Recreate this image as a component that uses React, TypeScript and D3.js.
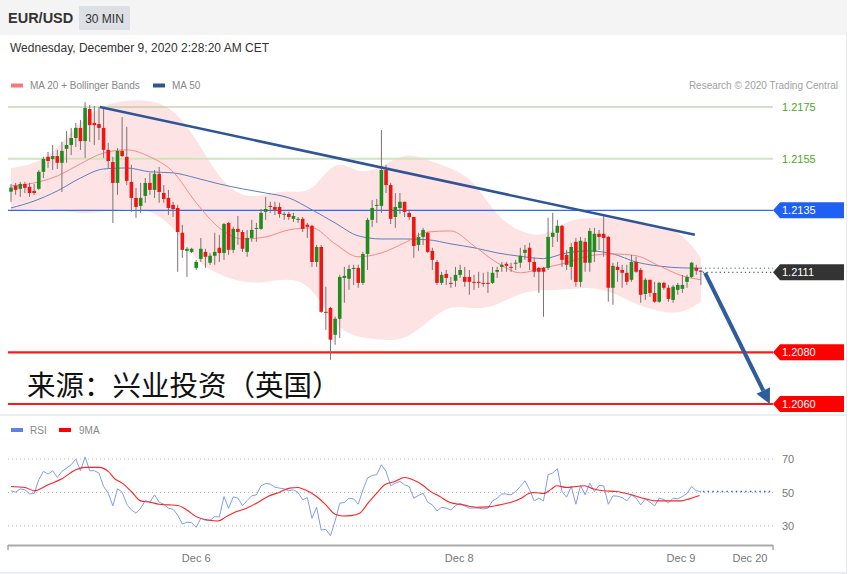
import React from 'react';
import * as d3 from 'd3';

const opens = [1.21422,1.21446,1.21433,1.21452,1.21441,1.21425,1.21433,1.21499,1.21557,1.21549,
1.21560,1.21534,1.21588,1.21603,1.21630,1.21669,1.21618,1.21742,1.21688,1.21684,
1.21669,1.21584,1.21537,1.21456,1.21580,1.21557,1.21460,1.21398,1.21367,1.21406,
1.21456,1.21429,1.21491,1.21417,1.21398,1.21371,1.21359,1.21263,1.21193,1.21189,
1.21127,1.21162,1.21189,1.21147,1.21174,1.21205,1.21185,1.21301,1.21197,1.21278,
1.21266,1.21189,1.21243,1.21278,1.21278,1.21344,1.21367,1.21363,1.21363,1.21332,
1.21336,1.21317,1.21313,1.21317,1.21294,1.21290,1.21150,1.21208,1.20957,1.20972,
1.20868,1.20930,1.21088,1.21085,1.21123,1.21127,1.21069,1.21181,1.21313,1.21367,
1.21367,1.21506,1.21448,1.21324,1.21359,1.21383,1.21340,1.21324,1.21216,1.21247,
1.21263,1.21193,1.21150,1.21069,1.21104,1.21069,1.21077,1.21100,1.21092,1.21092,
1.21073,1.21073,1.21069,1.21069,1.21069,1.21112,1.21131,1.21143,1.21131,1.21143,
1.21147,1.21185,1.21205,1.21150,1.21127,1.21127,1.21127,1.21247,1.21263,1.21290,
1.21177,1.21131,1.21228,1.21073,1.21228,1.21147,1.21189,1.21259,1.21259,1.21247,
1.21050,1.21131,1.21119,1.21108,1.21081,1.21150,1.21119,1.21026,1.21081,1.21030,
1.20996,1.21069,1.21050,1.21003,1.21042,1.21046,1.21073,1.21092,1.21127,1.21116];

const highs = [1.21452,1.21456,1.21460,1.21460,1.21456,1.21452,1.21506,1.21557,1.21576,1.21603,
1.21584,1.21615,1.21657,1.21669,1.21688,1.21700,1.21769,1.21758,1.21754,1.21750,
1.21746,1.21611,1.21557,1.21591,1.21711,1.21673,1.21526,1.21437,1.21456,1.21475,
1.21495,1.21506,1.21518,1.21448,1.21429,1.21383,1.21371,1.21294,1.21208,1.21205,
1.21158,1.21243,1.21201,1.21185,1.21263,1.21255,1.21301,1.21305,1.21286,1.21328,
1.21274,1.21274,1.21313,1.21301,1.21355,1.21402,1.21383,1.21383,1.21379,1.21344,
1.21344,1.21340,1.21324,1.21324,1.21301,1.21294,1.21216,1.21216,1.21054,1.20976,
1.20938,1.21100,1.21131,1.21139,1.21139,1.21139,1.21189,1.21321,1.21390,1.21394,
1.21661,1.21526,1.21456,1.21417,1.21417,1.21383,1.21352,1.21324,1.21263,1.21282,
1.21266,1.21205,1.21158,1.21112,1.21119,1.21092,1.21131,1.21139,1.21131,1.21119,
1.21100,1.21112,1.21108,1.21112,1.21131,1.21131,1.21150,1.21150,1.21147,1.21158,
1.21205,1.21216,1.21224,1.21166,1.21131,1.21131,1.21321,1.21340,1.21313,1.21294,
1.21197,1.21224,1.21243,1.21247,1.21243,1.21282,1.21282,1.21274,1.21332,1.21251,
1.21147,1.21150,1.21139,1.21139,1.21177,1.21170,1.21127,1.21088,1.21081,1.21073,
1.21073,1.21073,1.21061,1.21061,1.21069,1.21100,1.21100,1.21150,1.21139,1.21119];

const lows = [1.21383,1.21410,1.21402,1.21417,1.21402,1.21410,1.21429,1.21475,1.21514,1.21506,
1.21510,1.21421,1.21534,1.21564,1.21595,1.21584,1.21553,1.21615,1.21603,1.21622,
1.21553,1.21514,1.21301,1.21410,1.21557,1.21448,1.21344,1.21321,1.21340,1.21379,
1.21410,1.21398,1.21379,1.21379,1.21332,1.21324,1.21112,1.21166,1.21092,1.21185,
1.21119,1.21150,1.21127,1.21139,1.21139,1.21150,1.21158,1.21177,1.21185,1.21216,
1.21189,1.21170,1.21228,1.21228,1.21274,1.21313,1.21340,1.21332,1.21321,1.21313,
1.21313,1.21305,1.21301,1.21266,1.21243,1.21131,1.21131,1.20953,1.20887,1.20771,
1.20829,1.20856,1.20992,1.21042,1.21061,1.21050,1.21061,1.21119,1.21286,1.21301,
1.21340,1.21417,1.21297,1.21282,1.21336,1.21324,1.21313,1.21166,1.21193,1.21216,
1.21185,1.21119,1.21061,1.21061,1.21061,1.21050,1.21054,1.21088,1.21054,1.21023,
1.21042,1.21050,1.21054,1.21030,1.21065,1.21088,1.21112,1.21112,1.21112,1.21119,
1.21127,1.21158,1.21119,1.21092,1.21030,1.20938,1.21119,1.21208,1.21228,1.21131,
1.21119,1.21081,1.21054,1.21054,1.21112,1.21112,1.21150,1.21197,1.21170,1.20996,
1.20984,1.21073,1.21050,1.21061,1.21073,1.21108,1.20992,1.21003,1.21015,1.20992,
1.20992,1.21042,1.20996,1.20992,1.21023,1.21030,1.21050,1.21088,1.21100,1.21061];

const closes = [1.21438,1.21429,1.21452,1.21437,1.21417,1.21417,1.21499,1.21549,1.21541,1.21560,
1.21534,1.21580,1.21603,1.21630,1.21669,1.21618,1.21746,1.21680,1.21680,1.21669,
1.21584,1.21541,1.21456,1.21580,1.21560,1.21464,1.21398,1.21363,1.21398,1.21456,
1.21429,1.21491,1.21421,1.21394,1.21359,1.21355,1.21266,1.21197,1.21201,1.21201,
1.21150,1.21201,1.21170,1.21174,1.21189,1.21185,1.21297,1.21197,1.21278,1.21266,
1.21201,1.21243,1.21274,1.21282,1.21340,1.21355,1.21363,1.21352,1.21336,1.21336,
1.21324,1.21328,1.21317,1.21278,1.21286,1.21150,1.21208,1.20957,1.20953,1.20849,
1.20930,1.21092,1.21096,1.21123,1.21127,1.21069,1.21181,1.21313,1.21359,1.21371,
1.21506,1.21448,1.21317,1.21363,1.21383,1.21344,1.21324,1.21212,1.21247,1.21274,
1.21189,1.21158,1.21069,1.21100,1.21088,1.21067,1.21100,1.21119,1.21073,1.21073,
1.21069,1.21069,1.21067,1.21067,1.21108,1.21119,1.21139,1.21135,1.21127,1.21147,
1.21174,1.21197,1.21150,1.21112,1.21112,1.21112,1.21247,1.21263,1.21290,1.21158,
1.21139,1.21208,1.21073,1.21232,1.21147,1.21270,1.21259,1.21247,1.21243,1.21050,
1.21135,1.21119,1.21108,1.21073,1.21150,1.21112,1.21023,1.21081,1.21030,1.20996,
1.21069,1.21050,1.21007,1.21054,1.21061,1.21061,1.21092,1.21147,1.21116,1.21112];

const bandIdx = [0,5,10,15,20,25,30,35,40,45,50,55,60,65,70,75,80,85,90,95,100,105,110,115,120,125,130,135,140,145,149];
const bandUpper = [1.21514,1.21526,1.21584,1.21700,1.21758,1.21777,1.21777,1.21746,1.21630,1.21468,1.21398,1.21410,1.21429,1.21410,1.21560,1.21487,1.21514,1.21576,1.21545,1.21514,1.21468,1.21321,1.21266,1.21243,1.21313,1.21321,1.21321,1.21305,1.21290,1.21263,1.21166];
const bandLower = [1.21344,1.21359,1.21352,1.21336,1.21344,1.21359,1.21352,1.21294,1.21150,1.21100,1.21069,1.21069,1.21089,1.21061,1.20895,1.20856,1.20849,1.20845,1.20918,1.20988,1.20965,1.20980,1.21034,1.21042,1.21042,1.21054,1.21034,1.20984,1.20957,1.20949,1.20996];
const ma20 = [1.21444,1.21456,1.21483,1.21530,1.21572,1.21584,1.21557,1.21499,1.21379,1.21282,1.21239,1.21247,1.21274,1.21282,1.21220,1.21170,1.21185,1.21224,1.21266,1.21270,1.21212,1.21147,1.21108,1.21127,1.21147,1.21174,1.21181,1.21174,1.21135,1.21096,1.21081];
const ma50 = [1.21359,1.21386,1.21425,1.21475,1.21510,1.21514,1.21499,1.21495,1.21475,1.21452,1.21433,1.21417,1.21398,1.21352,1.21301,1.21251,1.21239,1.21239,1.21236,1.21220,1.21205,1.21185,1.21172,1.21163,1.21185,1.21193,1.21181,1.21150,1.21134,1.21127,1.21126];

const rsi = [51.0,50.2,52.2,51.6,49.2,49.4,57.6,62.6,61.0,63.0,
59.0,62.6,64.6,66.6,70.0,63.0,71.2,63.0,63.0,61.6,
53.6,49.6,42.0,52.2,50.2,43.0,39.6,37.6,40.6,45.2,
44.2,48.6,44.2,43.0,40.6,40.0,36.6,31.2,32.2,32.0,
29.2,34.6,33.4,33.4,35.6,35.4,47.6,40.6,47.4,46.6,
42.2,45.2,48.0,48.6,54.0,55.4,55.0,53.2,52.6,52.2,
51.0,51.6,50.0,45.6,47.0,34.6,41.2,27.6,28.0,24.2,
33.0,43.6,44.0,46.6,46.2,43.0,51.6,58.6,60.2,60.6,
66.6,62.6,54.0,55.6,56.6,54.6,53.6,46.6,48.2,49.6,
44.2,42.6,39.0,41.2,40.6,39.6,42.2,43.6,42.0,40.6,
40.8,40.6,40.2,40.6,45.0,46.6,49.2,49.0,48.6,50.6,
53.6,57.0,51.6,45.0,46.6,45.0,60.6,61.6,64.2,50.6,
47.2,53.6,43.0,54.2,48.6,55.6,50.6,54.2,54.0,43.0,
48.0,47.8,47.0,45.0,48.6,46.6,42.6,46.2,44.2,42.0,
46.6,45.8,43.8,46.6,46.2,47.6,49.4,53.6,51.0,50.6];
const rsiMaIdx = [0,3,5,8,11,14,16,19,21,22.4,24,26,28,30,32,34,36,38,40,42.6,44.7,46.5,48.7,50.9,53.4,55.5,58,60.2,62,63.5,66,68,70,71.7,73.5,75.3,77.1,79,80.7,82.9,85,86.8,89,90.4,92.6,94.7,97.6,100.5,103,105.5,108,110.2,111.7,113,115,116.7,117.8,120,122,123.9,125.7,127.8,130.7,133.6,136.5,139.4,142.2,144.7,146.5,148.7];
const rsiMa = [53.6,53,51,54.6,58.2,63.6,65,65,62.6,58.2,55.6,50.6,45,44.2,43,42.6,42.2,39.6,35.6,33.6,33,35.6,38.6,40.6,44.2,47.6,50.2,52.6,53,51.6,47.6,42.6,37,36,36.2,37.6,43.6,49.6,54.6,56.6,59,57.6,54.2,51,47.6,44.2,42.6,41.2,41.4,42.6,44.2,46.6,49.2,50,49.4,52,54,53,53.6,54,52.2,51,50.6,49,46.6,45,45,45,46.2,48.2];

const levelPrices = [1.2175, 1.2155, 1.2135, 1.2111, 1.2080, 1.2060];
const levelLabels = ['1.2175', '1.2155', '1.2135', '1.2111', '1.2080', '1.2060'];
const trendIdx = [19.2, 147.7];
const trendPrice = [1.2175, 1.21255];
const arrowIdx = [149.9, 163.9];
const arrowPrice = [1.21108, 1.2060];
const xTickIdx = [40, 96.8, 144.7, 159.6];
const xTickLabels = ['Dec 6', 'Dec 8', 'Dec 9', 'Dec 20'];
const rsiTicks = [70, 50, 30];

const FONT = 'Liberation Sans, Arial, Helvetica, sans-serif';

export default function App() {
  const x = d3.scaleLinear().domain([0, 149]).range([11, 700.9]);
  const y = d3.scaleLinear().domain([1.2060, 1.2175]).range([404, 107]);
  const yr = d3.scaleLinear().domain([30, 70]).range([526, 459]);
  const left = 8, right = 773;

  const bandArea = d3.area<number>()
    .x((_, i) => x(bandIdx[i]))
    .y0((_, i) => y(bandLower[i]))
    .y1((_, i) => y(bandUpper[i]))
    .curve(d3.curveBasis);
  const lineOf = (vals: number[]) => d3.line<number>()
    .x((_, i) => x(bandIdx[i]))
    .y((d) => y(d))
    .curve(d3.curveMonotoneX)(vals) as string;
  const rsiLine = d3.line<number>().x((_, i) => x(i)).y((d) => yr(d))(rsi) as string;
  const rsiMaLine = d3.line<number>().x((_, i) => x(rsiMaIdx[i])).y((d) => yr(d)).curve(d3.curveMonotoneX)(rsiMa) as string;

  const levelStyle = [
    { stroke: '#a9c28f', w: 1, label: '#4fa71c', tag: null },
    { stroke: '#cfe4bf', w: 2, label: '#4fa71c', tag: null },
    { stroke: '#2b6cf2', w: 1.3, label: '#fff', tag: '#1f5ff2' },
    { stroke: null, w: 0, label: '#fff', tag: '#333333' },
    { stroke: '#ff1a1a', w: 2.2, label: '#fff', tag: '#ff0000' },
    { stroke: '#ff1a1a', w: 2.2, label: '#fff', tag: '#ff0000' },
  ];

  const ax0 = x(arrowIdx[0]), ay0 = y(arrowPrice[0]);
  const ax1 = x(arrowIdx[1]), ay1 = y(arrowPrice[1]);
  const dx = ax1 - ax0, dy = ay1 - ay0, len = Math.hypot(dx, dy);
  const ux = dx / len, uy = dy / len;
  const headL = 15, headW = 7.5;
  const bx = ax1 - ux * headL, by = ay1 - uy * headL;
  const head = `${ax1},${ay1} ${bx - uy * headW},${by + ux * headW} ${bx + uy * headW},${by - ux * headW}`;

  const lastX = x(149);
  const lastRsi = rsi[rsi.length - 1];
  const lastMa50 = ma50[ma50.length - 1];

  return (
    <svg width={863} height={574} style={{ position: 'absolute', left: 0, top: 0, background: '#fff' }} fontFamily={FONT}>
      <rect x={0} y={0} width={847} height={35} fill="#f4f4f4" />
      <text x={8} y={23} fontSize={14.5} fontWeight="bold" fill="#333">EUR/USD</text>
      <rect x={79} y={6} width={51} height={24} fill="#dcdfe4" rx={1} />
      <text x={104.5} y={22.5} fontSize={12} fill="#333" textAnchor="middle">30 MIN</text>
      <text x={10} y={52} fontSize={12} fill="#333">Wednesday, December 9, 2020 2:28:20 AM CET</text>
      <line x1={846.5} y1={35} x2={846.5} y2={574} stroke="#e9ecef" />
      <line x1={0} y1={415} x2={846} y2={415} stroke="#eceff2" strokeWidth={2} />
      <line x1={0} y1={573} x2={846} y2={573} stroke="#eceff2" strokeWidth={2} />

      <rect x={11} y={83.5} width={12} height={4} fill="#f57a7a" />
      <text x={30} y={89} fontSize={10} fill="#888">MA 20 + Bollinger Bands</text>
      <rect x={153} y={83.5} width={12} height={4} fill="#2f5597" />
      <text x={172} y={89} fontSize={10} fill="#888">MA 50</text>
      <text x={838} y={89} fontSize={10} fill="#a0a0a0" textAnchor="end">Research © 2020 Trading Central</text>

      <path d={bandArea(bandUpper) as string} fill="#fde3e3" />

      {levelPrices.map((p, k) => {
        const s = levelStyle[k];
        const yy = y(p);
        return (
          <g key={k}>
            {s.stroke && <line x1={left} x2={right} y1={yy} y2={yy} stroke={s.stroke} strokeWidth={s.w} />}
          </g>
        );
      })}

      <path d={lineOf(ma50)} fill="none" stroke="#5b7fc0" strokeWidth={1} />
      <path d={lineOf(ma20)} fill="none" stroke="#f58a8a" strokeWidth={1} />

      {closes.map((c, i) => {
        const o = opens[i];
        const up = c >= o;
        const cx = x(i);
        const top = y(Math.max(o, c));
        const bot = y(Math.min(o, c));
        return (
          <g key={i}>
            <line x1={cx} x2={cx} y1={y(highs[i])} y2={y(lows[i])} stroke="#7d7272" strokeWidth={1} />
            <rect x={cx - 1.8} y={top} width={3.6} height={Math.max(1, bot - top)} fill={up ? '#1e8c1e' : '#f01414'} />
          </g>
        );
      })}

      <line x1={lastX} x2={right} y1={y(lastMa50)} y2={y(lastMa50)} stroke="#2f5597" strokeWidth={1} strokeDasharray="1.2,3" />
      <line x1={lastX + 2} x2={right} y1={y(levelPrices[3])} y2={y(levelPrices[3])} stroke="#333" strokeWidth={1} strokeDasharray="1.2,3" />

      <line x1={x(trendIdx[0])} y1={y(trendPrice[0])} x2={x(trendIdx[1])} y2={y(trendPrice[1])} stroke="#2f5597" strokeWidth={2.5} />

      <line x1={ax0} y1={ay0} x2={bx} y2={by} stroke="#2e5c9c" strokeWidth={4} />
      <polygon points={head} fill="#2e5c9c" />

      {levelPrices.map((p, k) => {
        const s = levelStyle[k];
        const yy = y(p);
        if (s.tag) {
          return (
            <g key={'t' + k}>
              <polygon points={`${right},${yy} ${right + 7},${yy - 8} 844,${yy - 8} 844,${yy + 8} ${right + 7},${yy + 8}`} fill={s.tag} />
              <text x={782} y={yy + 4} fontSize={11} fill="#fff">{levelLabels[k]}</text>
            </g>
          );
        }
        return <text key={'t' + k} x={782} y={yy + 4} fontSize={11} fill={s.label}>{levelLabels[k]}</text>;
      })}

      <text x={27} y={396} fontSize={28.5} fill="#111" fontFamily="Noto Sans CJK SC, sans-serif">来源：兴业投资（英国）</text>

      <rect x={11} y={428} width={12} height={4} fill="#5b82e6" />
      <text x={30} y={434} fontSize={10} fill="#888">RSI</text>
      <rect x={59} y={428} width={12} height={4} fill="#f00" />
      <text x={79} y={434} fontSize={10} fill="#888">9MA</text>

      {rsiTicks.map((t) => (
        <g key={t}>
          <line x1={left} x2={right} y1={yr(t)} y2={yr(t)} stroke="#bdbdbd" strokeDasharray="1,3" />
          <text x={782} y={yr(t) + 4} fontSize={11} fill="#777">{t}</text>
        </g>
      ))}
      <path d={rsiLine} fill="none" stroke="#7f9ef0" strokeWidth={1} />
      <path d={rsiMaLine} fill="none" stroke="#f22" strokeWidth={1.1} />
      <line x1={lastX + 2} x2={right} y1={yr(lastRsi)} y2={yr(lastRsi)} stroke="#2f62e8" strokeWidth={1.4} strokeDasharray="1.5,3.2" />

      <line x1={left} x2={right} y1={545.5} y2={545.5} stroke="#aaa" strokeWidth={2} />
      <line x1={left} x2={left} y1={545} y2={550} stroke="#aaa" strokeWidth={1.5} />
      <line x1={right} x2={right} y1={545} y2={550} stroke="#aaa" strokeWidth={1.5} />
      {xTickIdx.map((t, k) => (
        <text key={k} x={x(t)} y={562} fontSize={11} fill="#777" textAnchor="middle">{xTickLabels[k]}</text>
      ))}
    </svg>
  );
}
